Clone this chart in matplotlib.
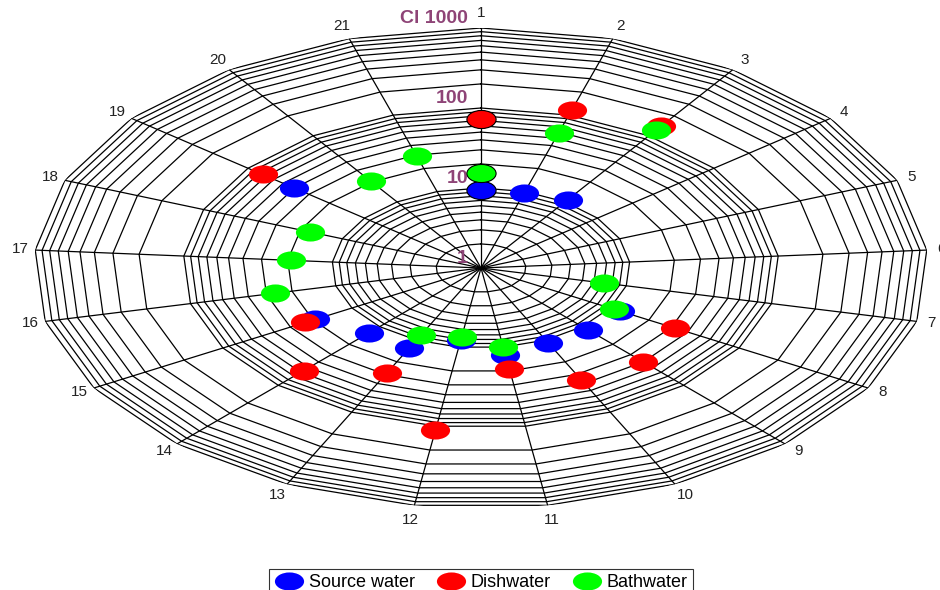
import numpy as np
import matplotlib.pyplot as plt
from matplotlib.path import Path
from matplotlib.transforms import Affine2D

plt.rcParams['font.family'] = ['Liberation Sans', 'DejaVu Sans']

nan = np.nan
spokes = list(range(1, 22))
source_water = [9.4, 9.6, 10.8, nan, nan, nan, nan, 11.9, 11.5, 10.9, 12.6,
                8.2, 12.9, 12.8, 19.3, nan, nan, nan, 40, nan, nan]
dishwater = [73, 117, 141, nan, nan, nan, nan, 32, 39.5, 35.7, 18.9,
             112, 28.7, 56, 23, nan, nan, nan, 75, nan, nan]
bathwater = [15.4, 58.5, 123, nan, nan, nan, 7.0, 10.7, nan, nan, 10.0,
             7.5, 8.4, nan, nan, 26, 19, 17.1, nan, 20.5, 29.3]
ring_values = [2, 3, 4, 5, 6, 7, 8, 9, 10, 20, 30, 40, 50, 60, 70, 80, 90,
               100, 200, 300, 400, 500, 600, 700, 800, 900, 1000]
r_labels = [1, 10, 100, 1000]
r_label_text = ['1', '10', '100', 'Cl 1000']

n = len(spokes)
theta = np.arange(n) * 2 * np.pi / n
theta_closed = np.append(theta, theta[0])

# wide elliptical marker like in the original
ellipse = Path.unit_circle().transformed(Affine2D().scale(1, 0.62))

fig = plt.figure(figsize=(9.4, 5.9), dpi=100)
ax = fig.add_axes([34 / 940, 82 / 590, 894 / 940, 480 / 590], projection='polar')
ax.set_aspect('auto')
ax.set_theta_zero_location('N')
ax.set_theta_direction(-1)
ax.set_rscale('log')
ax.set_rlim(1, 1000)
ax.grid(False)
ax.set_xticks([])
ax.set_yticks([])
ax.spines['polar'].set_visible(False)
ax.patch.set_visible(False)

# polygon rings and spokes
for v in ring_values:
    ax.plot(theta_closed, [v] * (n + 1), color='k', lw=0.9, zorder=1)
for t in theta:
    ax.plot([t, t], [1, 1000], color='k', lw=0.9, zorder=1)

# spoke numbers, pushed out a fixed distance on screen
for t, s in zip(theta, spokes):
    dx, dy = np.sin(t) * 447, np.cos(t) * 240
    d = np.hypot(dx, dy)
    ax.annotate(str(s), xy=(t, 1000), xytext=(15 * dx / d, 15 * dy / d),
                textcoords='offset pixels', ha='center', va='center',
                fontsize=11, color='#222222', annotation_clip=False)

for r, txt in zip(r_labels, r_label_text):
    ax.annotate(txt, xy=(0, r), xytext=(-13, 1), textcoords='offset pixels',
                ha='right', va='bottom', fontsize=14, fontweight='bold',
                color='#8e4477', annotation_clip=False)

series = [('Source water', source_water, '#0000ff'),
          ('Dishwater', dishwater, '#ff0000'),
          ('Bathwater', bathwater, '#00ff00')]
for i, (name, vals, col) in enumerate(series):
    ax.plot(theta, vals, linestyle='none', marker=ellipse, ms=21, color=col,
            mec='none', label=name, zorder=3 + i, clip_on=False)
    ax.plot(theta[:1], vals[:1], linestyle='none', marker=ellipse, ms=21,
            color=col, mec='k', mew=0.8, zorder=3 + i, clip_on=False)

leg = fig.legend(*ax.get_legend_handles_labels(), loc='upper center',
                 bbox_to_anchor=(481 / 940, 30 / 590), ncol=3, fontsize=13,
                 frameon=True, fancybox=False, edgecolor='k',
                 handlelength=1.6, handletextpad=0.3, columnspacing=1.2,
                 borderpad=0.3)
leg.get_frame().set_linewidth(0.8)

fig.savefig('out.png', dpi=100)
